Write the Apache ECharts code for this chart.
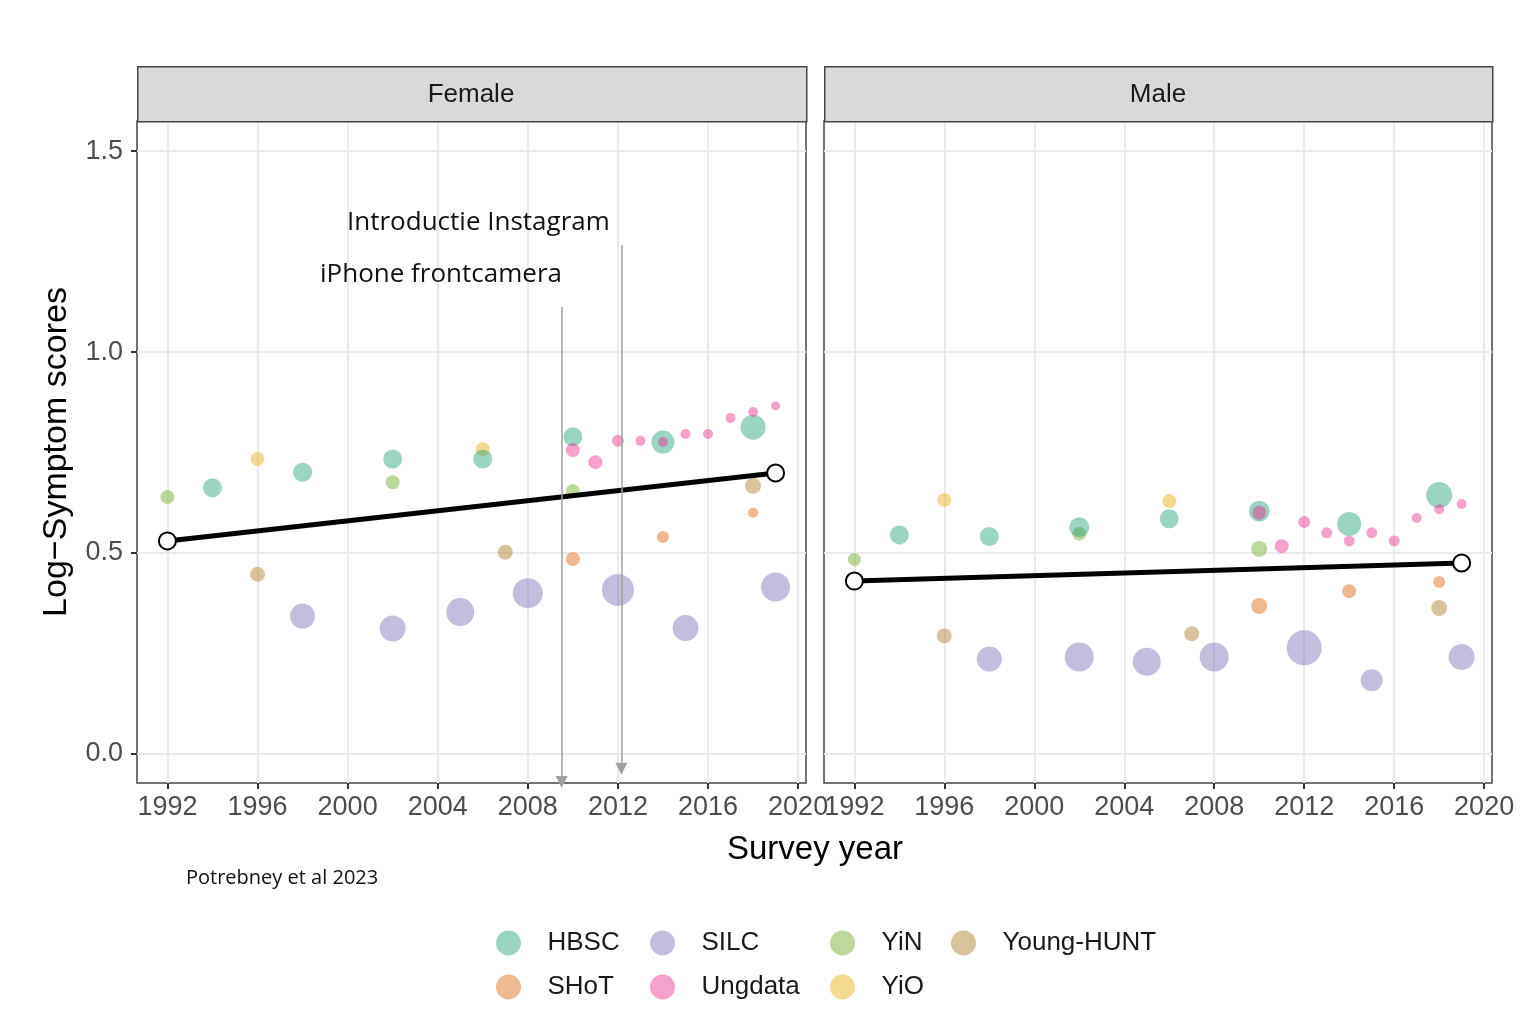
<!DOCTYPE html>
<html>
<head>
<meta charset="utf-8">
<script src="https://cdn.jsdelivr.net/npm/echarts@6/dist/echarts.min.js"></script>
<style>
  html, body { margin: 0; padding: 0; background: #fff; }
  #chart { width: 1534px; height: 1020px; }
</style>
</head>
<body>
<div id="chart"></div>
<script>
// ticks
var xTicks = [1992, 1996, 2000, 2004, 2008, 2012, 2016, 2020];
var yTicks = [0, 0.5, 1.0, 1.5];

// [survey year, log-symptom score, point size]
// Female
var hbscF = [[1994,0.662,19],[1998,0.701,19],[2002,0.734,19],[2006,0.734,19],[2010,0.789,19],[2014,0.776,23],[2018,0.813,25]];
var shotF = [[2010,0.485,14],[2014,0.540,12],[2018,0.600,10]];
var silcF = [[1998,0.343,25],[2002,0.312,26],[2005,0.353,28],[2008,0.400,30],[2012,0.408,32],[2015,0.313,26],[2019,0.415,29]];
var ungF  = [[2010,0.756,14],[2011,0.726,14],[2012,0.779,12],[2013,0.779,10],[2014,0.776,10],[2015,0.796,10],[2016,0.796,10],[2017,0.836,10],[2018,0.851,10],[2019,0.866,9]];
var yinF  = [[1992,0.639,14],[2002,0.676,14],[2010,0.654,14]];
var yioF  = [[1996,0.734,14],[2006,0.758,14]];
var huntF = [[1996,0.447,15],[2007,0.502,15],[2018,0.667,16]];
var trendF = [[1992,0.530],[2019,0.699]];

// Male
var hbscM = [[1994,0.545,19],[1998,0.541,19],[2002,0.564,20],[2006,0.585,19],[2010,0.604,21],[2014,0.572,24],[2018,0.644,26]];
var shotM = [[2010,0.368,16],[2014,0.405,14],[2018,0.428,12]];
var silcM = [[1998,0.236,25],[2002,0.241,29],[2005,0.229,28],[2008,0.241,29],[2012,0.264,35],[2015,0.183,22],[2019,0.241,26]];
var ungM  = [[2010,0.600,14],[2011,0.517,14],[2012,0.577,12],[2013,0.550,11],[2014,0.530,11],[2015,0.550,11],[2016,0.530,11],[2017,0.587,10],[2018,0.609,10],[2019,0.622,10]];
var yinM  = [[1992,0.484,13],[2002,0.548,14],[2010,0.510,16]];
var yioM  = [[1996,0.632,14],[2006,0.629,14]];
var huntM = [[1996,0.294,15],[2007,0.299,15],[2018,0.363,16]];
var trendM = [[1992,0.430],[2019,0.475]];

// arrows: [year, score] start / end
var arrowPhone = [[2009.5,1.112],[2009.5,-0.070]];
var arrowInsta = [[2012.15,1.266],[2012.15,-0.037]];

var colors = {
    'HBSC': 'rgba(27,158,119,0.55)',
    'SHoT': 'rgba(217,95,2,0.55)',
    'SILC': 'rgba(117,112,179,0.56)',
    'Ungdata': 'rgba(231,41,138,0.55)',
    'YiN': 'rgba(102,166,30,0.55)',
    'YiO': 'rgba(230,171,2,0.55)',
    'Young-HUNT': 'rgba(166,118,29,0.55)'
};

var panels = [
    {HBSC: hbscF, SILC: silcF, YiN: yinF, 'Young-HUNT': huntF, SHoT: shotF, Ungdata: ungF, YiO: yioF, trend: trendF},
    {HBSC: hbscM, SILC: silcM, YiN: yinM, 'Young-HUNT': huntM, SHoT: shotM, Ungdata: ungM, YiO: yioM, trend: trendM}
];
var drawOrder = ['SILC', 'Young-HUNT', 'SHoT', 'YiN', 'YiO', 'HBSC', 'Ungdata'];

var chart = echarts.init(document.getElementById('chart'));

var font = 'Liberation Sans, Arial, sans-serif';
var noteFont = 'Open Sans, Lato, sans-serif';
var series = [];
panels.forEach(function(p, i){
    drawOrder.forEach(function(name){
        series.push({
            name: name,
            type: 'scatter',
            xAxisIndex: i,
            yAxisIndex: i,
            data: p[name],
            symbolSize: function(d){ return d[2]; },
            itemStyle: { color: colors[name] },
            z: 2
        });
    });
    var trend = {
        type: 'line',
        xAxisIndex: i,
        yAxisIndex: i,
        data: p.trend,
        symbol: 'emptyCircle',
        symbolSize: 17,
        lineStyle: { color: '#000', width: 5 },
        itemStyle: { color: '#000', borderWidth: 2.2 },
        z: 4
    };
    if (i === 0) {
        trend.markLine = {
            silent: true,
            symbol: ['none', 'triangle'],
            symbolSize: [12, 12],
            label: { show: false },
            lineStyle: { color: '#a0a0a0', width: 1.5, type: 'solid' },
            data: [
                [{coord: arrowPhone[0]}, {coord: arrowPhone[1]}],
                [{coord: arrowInsta[0]}, {coord: arrowInsta[1]}]
            ]
        };
    }
    series.push(trend);
});

function xAxisFor(i){
    return {
        gridIndex: i,
        type: 'value',
        position: 'bottom',
        min: 1990.65,
        max: 2020.35,
        axisLine: { show: false, onZero: false },
        axisTick: { show: true, length: 6, customValues: xTicks, lineStyle: { color: '#333', width: 2 } },
        axisLabel: { customValues: xTicks, fontSize: 27, fontFamily: font, color: '#4d4d4d', margin: 11,
                     formatter: function(v){ return String(Math.round(v)); } },
        splitLine: { show: true, lineStyle: { color: '#ebebeb', width: 2 } }
    };
}
function yAxisFor(i){
    return {
        gridIndex: i,
        type: 'value',
        position: 'left',
        min: -0.0725,
        max: 1.575,
        axisLine: { show: false, onZero: false },
        axisTick: { show: i === 0, length: 6, customValues: yTicks, lineStyle: { color: '#333', width: 2 } },
        axisLabel: { show: i === 0, customValues: yTicks, fontSize: 27, fontFamily: font, color: '#4d4d4d', margin: 14,
                     formatter: function(v){ return v.toFixed(1); } },
        splitLine: { show: true, lineStyle: { color: '#ebebeb', width: 2 } }
    };
}

var legendBase = {
    orient: 'vertical',
    top: 925,
    itemWidth: 68,
    itemHeight: 25,
    itemGap: 18,
    icon: 'circle',
    selectedMode: false,
    textStyle: { fontSize: 26, fontFamily: font, color: '#1a1a1a' }
};
var legendCols = [['HBSC', 'SHoT'], ['SILC', 'Ungdata'], ['YiN', 'YiO'], ['Young-HUNT']];
var legendLeft = [491, 645, 825, 946];

var option = {
    animation: false,
    backgroundColor: '#fff',
    grid: [
        { left: 137, top: 121, width: 669, height: 662, show: true, borderColor: '#444', borderWidth: 1.5, backgroundColor: 'transparent' },
        { left: 824, top: 121, width: 668, height: 662, show: true, borderColor: '#444', borderWidth: 1.5, backgroundColor: 'transparent' }
    ],
    xAxis: [xAxisFor(0), xAxisFor(1)],
    yAxis: [yAxisFor(0), yAxisFor(1)],
    legend: legendCols.map(function(col, k){
        return Object.assign({}, legendBase, { left: legendLeft[k], data: col });
    }),
    graphic: [
        // facet strips
        { type: 'rect', left: 137, top: 66, shape: { width: 669, height: 55 }, style: { fill: '#d9d9d9', stroke: '#444', lineWidth: 1.5 }, z: 10 },
        { type: 'rect', left: 824, top: 66, shape: { width: 668, height: 55 }, style: { fill: '#d9d9d9', stroke: '#444', lineWidth: 1.5 }, z: 10 },
        { type: 'text', x: 471, y: 95, style: { text: 'Female', fontSize: 26, fontFamily: font, fill: '#1a1a1a', align: 'center', verticalAlign: 'middle' }, z: 11 },
        { type: 'text', x: 1158, y: 95, style: { text: 'Male', fontSize: 26, fontFamily: font, fill: '#1a1a1a', align: 'center', verticalAlign: 'middle' }, z: 11 },
        // axis titles
        { type: 'text', x: 57, y: 452, rotation: Math.PI / 2, style: { text: 'Log\u2212Symptom scores', fontSize: 34, fontFamily: font, fill: '#000', align: 'center', verticalAlign: 'middle' } },
        { type: 'text', x: 815, y: 850, style: { text: 'Survey year', fontSize: 33, fontFamily: font, fill: '#000', align: 'center', verticalAlign: 'middle' } },
        // annotations
        { type: 'text', x: 347, y: 223, style: { text: 'Introductie Instagram', fontSize: 26, fontFamily: noteFont, fill: '#111', align: 'left', verticalAlign: 'middle' }, z: 12 },
        { type: 'text', x: 320, y: 275, style: { text: 'iPhone frontcamera', fontSize: 26, fontFamily: noteFont, fill: '#111', align: 'left', verticalAlign: 'middle' }, z: 12 },
        { type: 'text', x: 186, y: 878, style: { text: 'Potrebney et al 2023', fontSize: 20, fontFamily: noteFont, fill: '#111', align: 'left', verticalAlign: 'middle' } }
    ],
    series: series
};

chart.setOption(option);
</script>
</body>
</html>
